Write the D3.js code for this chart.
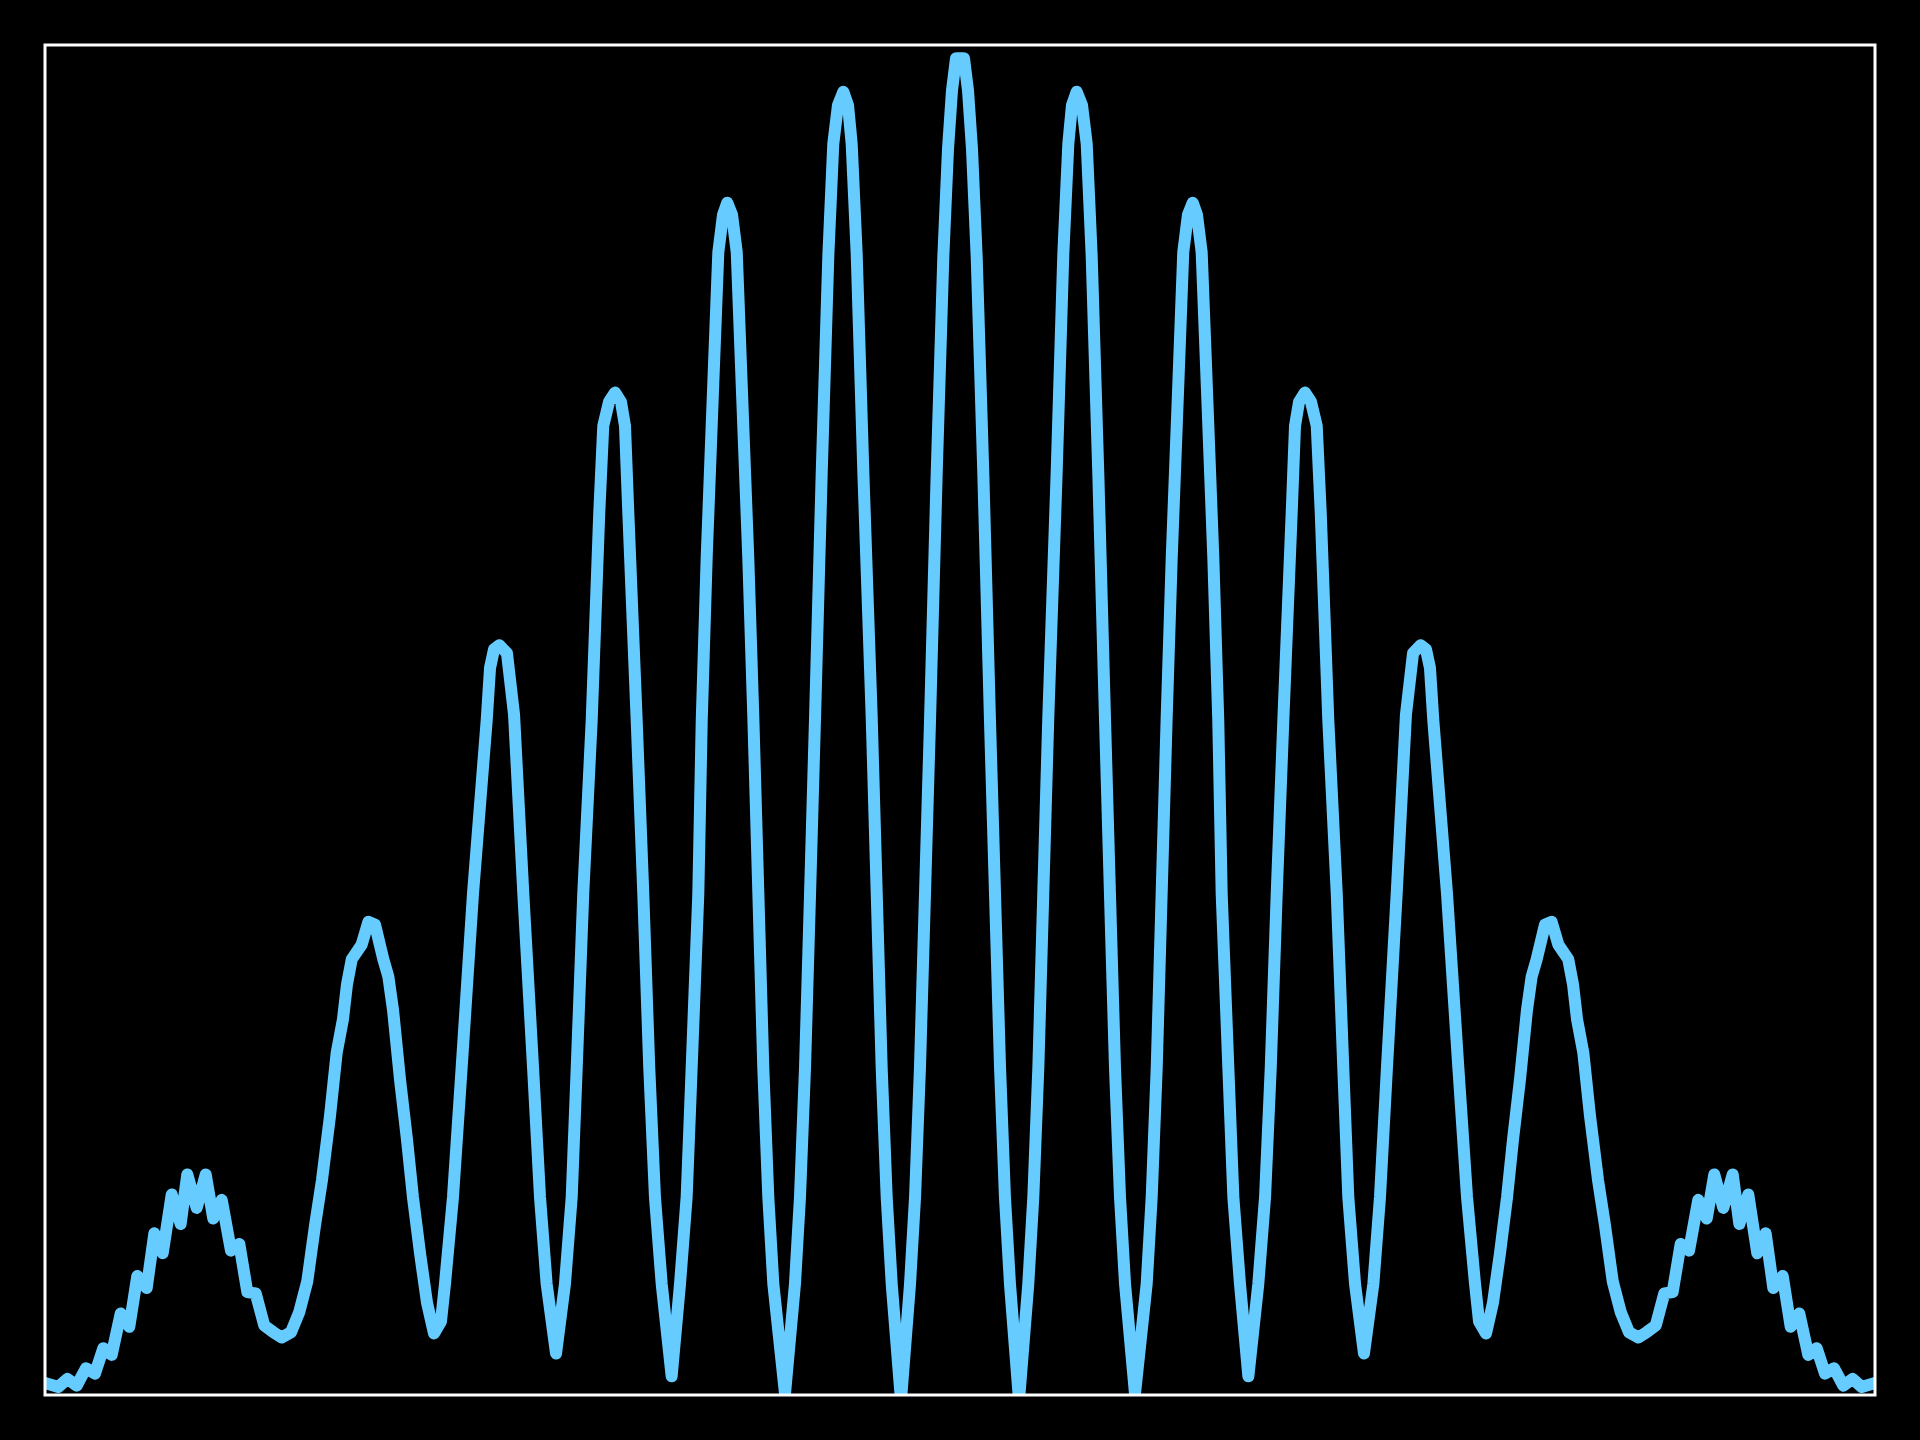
<!DOCTYPE html>
<html>
<head>
<meta charset="utf-8">
<script src="https://cdn.jsdelivr.net/npm/d3@7"></script>
<style>
  html, body { margin: 0; padding: 0; background: #000; }
  svg { display: block; }
</style>
</head>
<body>
<svg id="chart" width="1920" height="1440"></svg>
<script>
// ---- data (x: position, y: relative intensity) ----
const xValues = [
  -8.000, -7.884, -7.805, -7.723, -7.642, -7.563, -7.490, -7.417, -7.338, -7.263,
  -7.193, -7.111, -7.044, -6.971, -6.892, -6.814, -6.756, -6.674, -6.595, -6.529,
  -6.455, -6.374, -6.301, -6.231, -6.158, -6.083, -6.004, -5.931, -5.849, -5.777,
  -5.707, -5.639, -5.578, -5.508, -5.450, -5.395, -5.360, -5.318, -5.231, -5.173,
  -5.115, -5.042, -4.998, -4.957, -4.896, -4.835, -4.783, -4.721, -4.660, -4.599,
  -4.538, -4.503, -4.433, -4.357, -4.258, -4.138, -4.109, -4.074, -4.028, -3.961,
  -3.899, -3.818, -3.733, -3.672, -3.614, -3.532, -3.454, -3.395, -3.351, -3.294,
  -3.220, -3.154, -3.119, -3.069, -3.016, -2.964, -2.929, -2.900, -2.827, -2.769,
  -2.717, -2.667, -2.608, -2.521, -2.448, -2.390, -2.346, -2.288, -2.258, -2.215,
  -2.157, -2.113, -2.072, -2.035, -1.993, -1.952, -1.909, -1.851, -1.807, -1.763,
  -1.720, -1.676, -1.632, -1.530, -1.443, -1.399, -1.355, -1.311, -1.268, -1.209,
  -1.151, -1.108, -1.067, -1.020, -0.979, -0.947, -0.903, -0.845, -0.772, -0.728,
  -0.685, -0.641, -0.597, -0.516, -0.437, -0.393, -0.350, -0.306, -0.262, -0.204,
  -0.146, -0.105, -0.070, -0.035,
   0.035,  0.070,  0.105,  0.146,  0.204,  0.262,  0.306,  0.350,  0.393,  0.437,
   0.516,  0.597,  0.641,  0.685,  0.728,  0.772,  0.845,  0.903,  0.947,  0.979,
   1.020,  1.067,  1.108,  1.151,  1.209,  1.268,  1.311,  1.355,  1.399,  1.443,
   1.530,  1.632,  1.676,  1.720,  1.763,  1.807,  1.851,  1.909,  1.952,  1.993,
   2.035,  2.072,  2.113,  2.157,  2.215,  2.258,  2.288,  2.346,  2.390,  2.448,
   2.521,  2.608,  2.667,  2.717,  2.769,  2.827,  2.900,  2.929,  2.964,  3.016,
   3.069,  3.119,  3.154,  3.220,  3.294,  3.351,  3.395,  3.454,  3.532,  3.614,
   3.672,  3.733,  3.818,  3.899,  3.961,  4.028,  4.074,  4.109,  4.138,  4.258,
   4.357,  4.433,  4.503,  4.538,  4.599,  4.660,  4.721,  4.783,  4.835,  4.896,
   4.957,  4.998,  5.042,  5.115,  5.173,  5.231,  5.318,  5.360,  5.395,  5.450,
   5.508,  5.578,  5.639,  5.707,  5.777,  5.849,  5.931,  6.004,  6.083,  6.158,
   6.231,  6.301,  6.374,  6.455,  6.529,  6.595,  6.674,  6.756,  6.814,  6.892,
   6.971,  7.044,  7.111,  7.193,  7.263,  7.338,  7.417,  7.490,  7.563,  7.642,
   7.723,  7.805,  7.884,  8.000
];

const yValues = [
  0.009, 0.006, 0.012, 0.007, 0.020, 0.016, 0.035, 0.030, 0.061, 0.051,
  0.089, 0.080, 0.121, 0.106, 0.150, 0.128, 0.165, 0.140, 0.165, 0.132,
  0.146, 0.108, 0.113, 0.077, 0.076, 0.052, 0.047, 0.043, 0.047, 0.062,
  0.085, 0.127, 0.161, 0.209, 0.256, 0.281, 0.307, 0.326, 0.337, 0.354,
  0.352, 0.326, 0.313, 0.288, 0.236, 0.191, 0.148, 0.106, 0.069, 0.046,
  0.055, 0.083, 0.148, 0.245, 0.375, 0.505, 0.544, 0.558, 0.561, 0.555,
  0.509, 0.375, 0.245, 0.148, 0.083, 0.031, 0.083, 0.148, 0.245, 0.375,
  0.505, 0.660, 0.725, 0.743, 0.750, 0.743, 0.725, 0.660, 0.505, 0.375,
  0.245, 0.148, 0.083, 0.014, 0.083, 0.148, 0.245, 0.375, 0.505, 0.626,
  0.757, 0.855, 0.883, 0.892, 0.883, 0.855, 0.757, 0.626, 0.507, 0.375,
  0.245, 0.148, 0.083, 0.001, 0.083, 0.148, 0.245, 0.375, 0.505, 0.690,
  0.853, 0.936, 0.965, 0.975, 0.965, 0.936, 0.853, 0.690, 0.507, 0.375,
  0.245, 0.148, 0.083, -0.004, 0.083, 0.148, 0.245, 0.375, 0.505, 0.689,
  0.851, 0.932, 0.976, 1.000,
  1.000, 0.976, 0.932, 0.851, 0.689, 0.505, 0.375, 0.245, 0.148, 0.083,
  -0.004, 0.083, 0.148, 0.245, 0.375, 0.507, 0.690, 0.853, 0.936, 0.965,
  0.975, 0.965, 0.936, 0.853, 0.690, 0.505, 0.375, 0.245, 0.148, 0.083,
  0.001, 0.083, 0.148, 0.245, 0.375, 0.507, 0.626, 0.757, 0.855, 0.883,
  0.892, 0.883, 0.855, 0.757, 0.626, 0.505, 0.375, 0.245, 0.148, 0.083,
  0.014, 0.083, 0.148, 0.245, 0.375, 0.505, 0.660, 0.725, 0.743, 0.750,
  0.743, 0.725, 0.660, 0.505, 0.375, 0.245, 0.148, 0.083, 0.031, 0.083,
  0.148, 0.245, 0.375, 0.509, 0.555, 0.561, 0.558, 0.544, 0.505, 0.375,
  0.245, 0.148, 0.083, 0.055, 0.046, 0.069, 0.106, 0.148, 0.191, 0.236,
  0.288, 0.313, 0.326, 0.352, 0.354, 0.337, 0.326, 0.307, 0.281, 0.256,
  0.209, 0.161, 0.127, 0.085, 0.062, 0.047, 0.043, 0.047, 0.052, 0.076,
  0.077, 0.113, 0.108, 0.146, 0.132, 0.165, 0.140, 0.165, 0.128, 0.150,
  0.106, 0.121, 0.080, 0.089, 0.051, 0.061, 0.030, 0.035, 0.016, 0.020,
  0.007, 0.012, 0.006, 0.009
];

const xDomain = [-8, 8];
const yDomain = [0, 1.01];

// ---- drawing ----
const W = 1920, H = 1440;
const margin = { left: 45, right: 45, top: 45, bottom: 45 };

const svg = d3.select('#chart');
svg.append('rect').attr('width', W).attr('height', H).attr('fill', '#000');

const x = d3.scaleLinear().domain(xDomain).range([margin.left, W - margin.right]);
const y = d3.scaleLinear().domain(yDomain).range([H - margin.bottom, margin.top]);

svg.append('defs').append('clipPath').attr('id', 'plot-clip')
  .append('rect')
  .attr('x', margin.left).attr('y', margin.top)
  .attr('width', W - margin.left - margin.right)
  .attr('height', H - margin.top - margin.bottom);

const data = xValues.map((v, i) => ({ x: v, y: yValues[i] }));

const line = d3.line()
  .x(d => x(d.x))
  .y(d => y(d.y))
  .curve(d3.curveLinear);

svg.append('g').attr('clip-path', 'url(#plot-clip)')
  .append('path')
  .datum(data)
  .attr('d', line)
  .attr('fill', 'none')
  .attr('stroke', '#66ccff')
  .attr('stroke-width', 12)
  .attr('stroke-linejoin', 'round')
  .attr('stroke-linecap', 'round');

// frame (spines)
svg.append('rect')
  .attr('x', margin.left).attr('y', margin.top)
  .attr('width', W - margin.left - margin.right)
  .attr('height', H - margin.top - margin.bottom)
  .attr('fill', 'none')
  .attr('stroke', '#ffffff')
  .attr('stroke-width', 3);
</script>
</body>
</html>
